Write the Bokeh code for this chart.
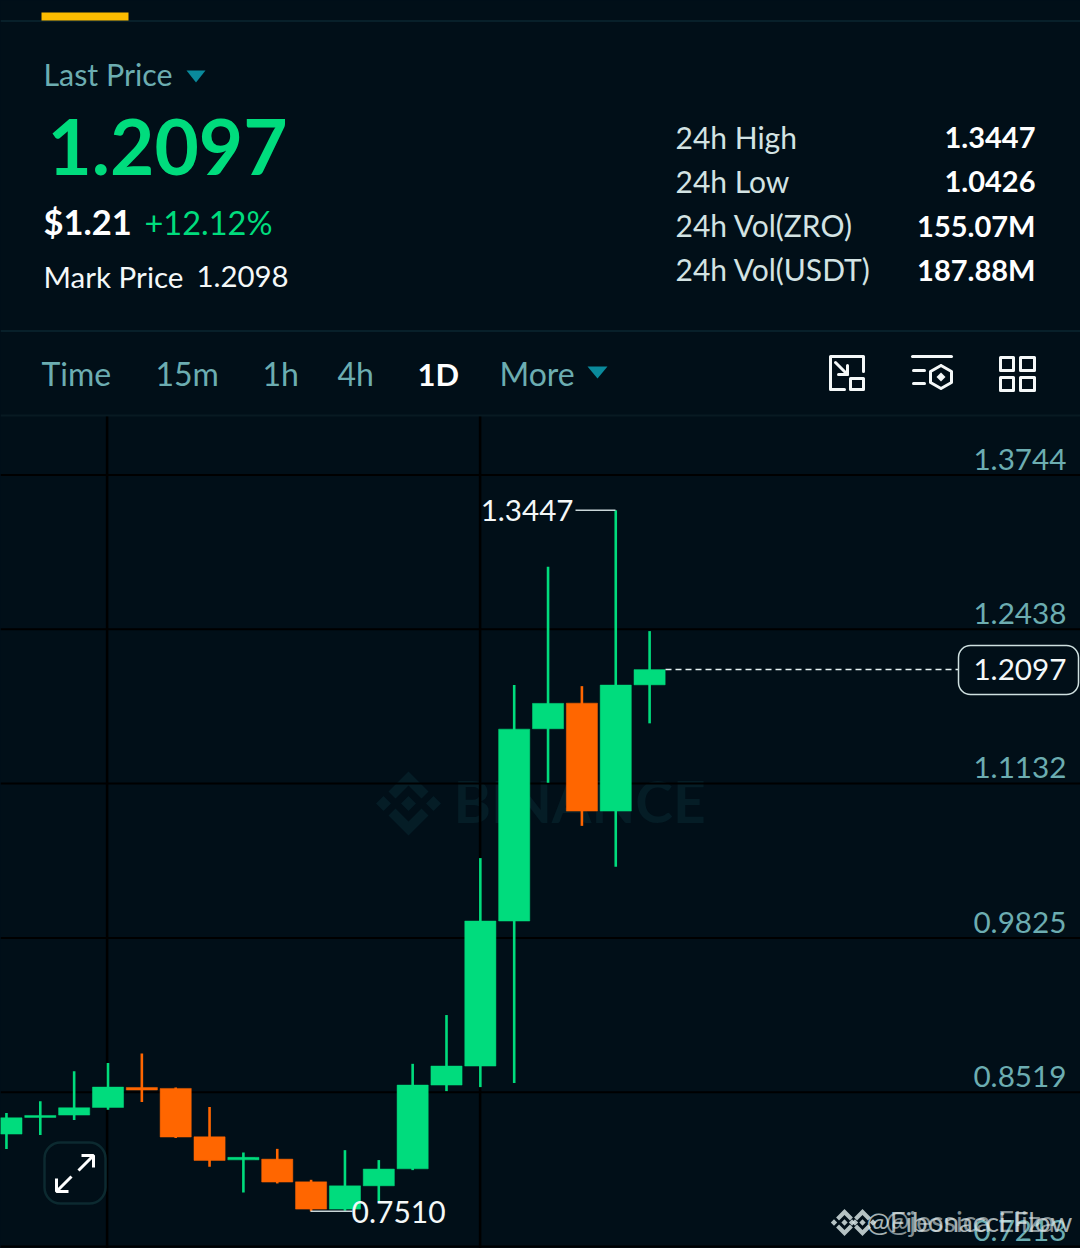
from bokeh.plotting import figure
from bokeh.models import Range1d, BoxAnnotation
from bokeh.core.properties import value
from bokeh.embed import file_html
from bokeh.resources import INLINE
import numpy as np

# ---- data ----
opens = [0.8164,0.8305,0.8325,0.8390,0.8559,0.8551,0.8141,0.7946,0.7952,0.7760,0.7529,0.7726,0.7870,0.8579,0.8740,0.9968,1.1596,1.1813,1.0899,1.1968]
closes = [0.8302,0.8322,0.8387,0.8562,0.8537,0.8139,0.7941,0.7967,0.7758,0.7529,0.7726,0.7868,0.8579,0.8740,0.9968,1.1593,1.1811,1.0899,1.1966,1.2097]
highs = [0.8342,0.8443,0.8697,0.8765,0.8847,0.8559,0.8393,0.8009,0.8039,0.7777,0.8028,0.7944,0.8759,0.9172,1.0501,1.1966,1.2968,1.1957,1.3447,1.2423]
lows = [0.8037,0.8156,0.8283,0.8370,0.8435,0.8130,0.7887,0.7670,0.7746,0.7510,0.7515,0.7597,0.7859,0.8528,0.8562,0.8596,1.1139,1.0774,1.0427,1.1642]
price_ticks = [1.3744,1.2438,1.1132,0.9825,0.8519,0.7213]
last_price = 1.2097
high_price = 1.3447
low_price = 0.7510
stat_names = ["24h High","24h Low","24h Vol(ZRO)","24h Vol(USDT)"]
stat_values = ["1.3447","1.0426","155.07M","187.88M"]
intervals = ["Time","15m","1h","4h","More"]

BG="#010f18"; GREEN="#00dc7d"; ORANGE="#ff6600"; MUTED="#6cadb1"; LINE="#0b2730"; TEAL="#0a8a9c"; LIGHT="#d3e3e3"
FONT="Lato"
BASE_SHIFT=0.37

p = figure(width=1080, height=1248, output_backend="svg", toolbar_location=None,
           x_range=Range1d(0,1080), y_range=Range1d(1248,0),
           background_fill_color=BG, border_fill_color=BG, outline_line_color=None,
           min_border=0, x_axis_type=None, y_axis_type=None)
p.grid.visible=False

# price and candle-number scales mapped on the same frame
PX_PER=1181.0
p.extra_y_ranges={"price":Range1d(1.3744-(1248-474.6)/PX_PER, 1.3744+474.6/PX_PER)}
p.extra_x_ranges={"idx":Range1d(19-649.1/33.85, 19+(1080-649.1)/33.85)}

def txt(x,y,s,size,color=LIGHT,style="normal",align="left",alpha=1.0,font=FONT):
    p.text(x=[x],y=[y-BASE_SHIFT*size],text=[s],text_font=value(font),text_font_size=f"{size}px",text_color=color,
           text_font_style=style,text_align=align,text_baseline="alphabetic",text_alpha=alpha)

def logo(cx,cy,s,color,alpha=1.0):
    base=[[(0,-32),(20,-12),(13,-5),(0,-18),(-13,-5),(-20,-12)],
          [(0,32),(20,12),(13,5),(0,18),(-13,5),(-20,12)],
          [(0,-7.5),(7.5,0),(0,7.5),(-7.5,0)],
          [(-25,-7.5),(-17.5,0),(-25,7.5),(-32.5,0)],
          [(25,-7.5),(32.5,0),(25,7.5),(17.5,0)]]
    p.patches([[cx+s*a for a,b in q] for q in base],[[cy+s*b for a,b in q] for q in base],
              fill_color=color,line_color=None,fill_alpha=alpha)

# ---- header ----
p.segment([0,0,0],[20.5,330.5,415],[1080,1080,1080],[20.5,330.5,415],line_color=[LINE,LINE,"#081a22"],line_width=[1.5,1.5,2])
p.quad(left=[41],right=[128],top=[12],bottom=[20],fill_color="#fcbc00",line_color=None)
txt(43,85,"Last Price",30.4,MUTED)
p.patch([186,205,195.5],[70,70,82],fill_color=TEAL,line_color=None)
txt(47,175,"1.2097",76.5,GREEN,"bold")
txt(43,234,"$1.21",34.5,"#ffffff","bold")
txt(144,234,"+12.12%",32.5,GREEN)
txt(43,287,"Mark Price",29.6,"#f4f8f8")
txt(196,287,"1.2098",29.4,"#f4f8f8")
for i,(n,v) in enumerate(zip(stat_names,stat_values)):
    txt(675,148+44*i,n,30,LIGHT)
    txt(1035,148+44*i,v,29,"#ffffff","bold",align="right")
# interval row
for x,s in zip([41,155,262,337,499],intervals):
    txt(x,385,s,32,MUTED)
txt(417,385,"1D",31,"#ffffff","bold")
p.patch([587,607,597],[366,366,378],fill_color=TEAL,line_color=None)
# icons
W="#f4f8f8"
icon=dict(line_color=W,line_width=3,line_cap="round",line_join="round")
p.multi_line([[863,863,830,830,844],[835,847],[847,847,838],[912,951],[913,924],[913,924],
              [940.5,951,951,940.5,930,930,940.5]],
             [[371,356,356,389,389],[362,374],[365,374,374],[356,356],[370,370],[383,383],
              [365,371,382,388,382,371,365]],**icon)
p.quad(left=[850,1000,1020,1000,1020],right=[863,1013,1034,1013,1034],
       top=[378,357,357,377,377],bottom=[389,370,370,390,390],fill_color=None,**icon)
p.patch([940.5,945,940.5,936],[372,376.5,381,376.5],fill_color=W,line_color=None)

# ---- chart ----
logo(408,803,1.0,"#051d26")
txt(453,822,"BINANCE",57,"#051d26","bold")
p.segment(x0=[0]*len(price_ticks),x1=[1080]*len(price_ticks),y0=price_ticks,y1=price_ticks,
          y_range_name="price",line_color="#000000",line_width=2)
p.segment(x0=[106.6,479.6],x1=[106.6,479.6],y0=[416,416],y1=[1248,1248],line_color="#000000",line_width=2.5)

idx=list(range(len(opens)))
up=[c>=o for o,c in zip(opens,closes)]
cols=[GREEN if u else ORANGE for u in up]
p.segment(x0=idx,x1=idx,y0=lows,y1=highs,line_color=cols,line_width=2.6,x_range_name="idx",y_range_name="price")
p.vbar(x=idx,width=0.92,top=[max(a,b) for a,b in zip(opens,closes)],bottom=[min(a,b) for a,b in zip(opens,closes)],
       fill_color=cols,line_color=cols,line_width=0.5,x_range_name="idx",y_range_name="price")

p.segment(x0=[665],x1=[958],y0=[last_price],y1=[last_price],y_range_name="price",line_color="#e6f2f2",line_width=1.5,line_dash="6 4")
p.segment(x0=[575,310],x1=[615,352],y0=[high_price,low_price],y1=[high_price,low_price],y_range_name="price",line_color="#c9d6d8",line_width=1.5)
txt(573,521,f"{high_price:.4f}",29.6,"#f4f8f8",align="right")
txt(351,1223,f"{low_price:.4f}",30,"#f4f8f8")

for t in price_ticks:
    yy=475+(1.3744-t)*PX_PER-5
    txt(1066,yy,f"{t:.4f}",29.7,MUTED,align="right")

p.add_layout(BoxAnnotation(left=958,right=1078,top=645,bottom=694,fill_color=None,fill_alpha=0,line_color="#cfe0e0",line_alpha=1,line_width=1.5,border_radius=12))
txt(1066,680,f"{last_price:.4f}",29.7,"#f4f8f8",align="right")

# expand button
p.add_layout(BoxAnnotation(left=44,right=105,top=1142,bottom=1203,fill_color=None,fill_alpha=0,line_color="#0c2a30",line_alpha=1,line_width=2.5,border_radius=16))
p.multi_line([[78,93],[81,93,93],[71,56],[56,56,68]],[[1170,1155],[1155,1155,1167],[1176,1191],[1178,1191,1191]],
             line_color="#ffffff",line_width=3)

# overlaid credit marks
logo(844,1222,0.42,"#d5e2e2",0.85)
logo(862,1222,0.42,"#d5e2e2",0.85)
txt(866,1231,"@Fibonacci Flow",27.8,"#dfe8e8",alpha=0.75)
txt(885,1231,"@jessica Eliza",28.5,"#dfe8e8",alpha=0.6)

html=file_html(p,INLINE).replace("<head>",f"<head><style>html,body{{margin:0;padding:0;background:{BG};overflow:hidden}}</style>",1)
open("out.html","w").write(html)
